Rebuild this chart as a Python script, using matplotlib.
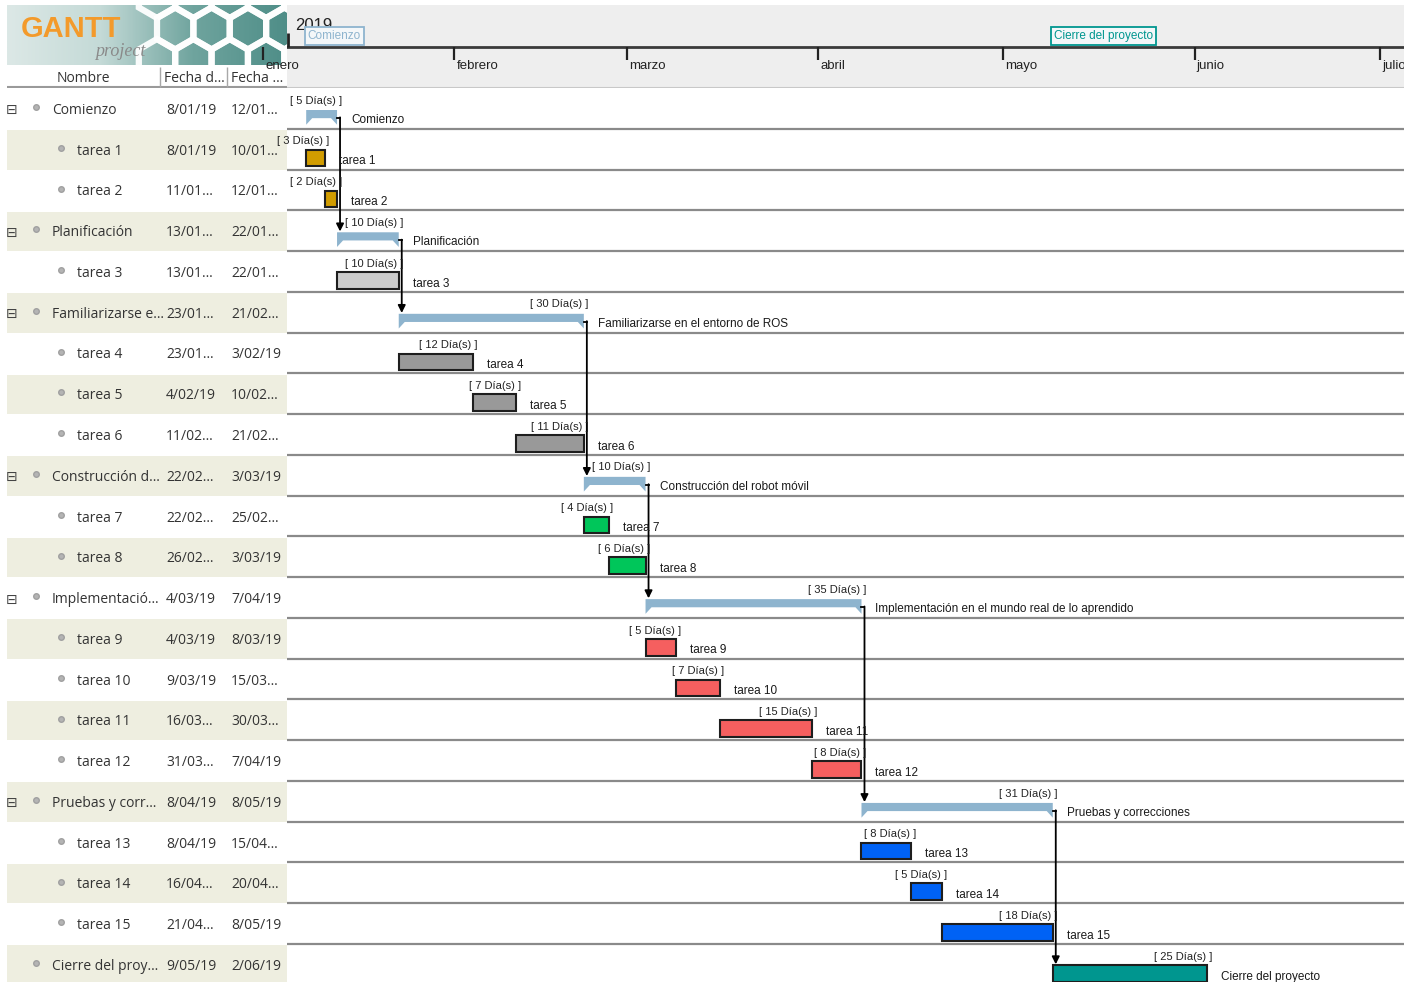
"""
GanttProject style chart: planning of the ROS mobile robot project (2019)
"""
import datetime as dt

import matplotlib
import matplotlib.dates as mdates
import matplotlib.pyplot as plt
import numpy as np
from matplotlib.patches import Polygon, RegularPolygon

matplotlib.use("Agg")

W, H = 1414, 982

# ---- data -----------------------------------------------------------------
TABLE_NAMES = [
    "Comienzo", "tarea 1", "tarea 2", "Planificación", "tarea 3",
    "Familiarizarse e…", "tarea 4", "tarea 5", "tarea 6", "Construcción d…",
    "tarea 7", "tarea 8", "Implementació…", "tarea 9", "tarea 10", "tarea 11",
    "tarea 12", "Pruebas y corr…", "tarea 13", "tarea 14", "tarea 15",
    "Cierre del proy…",
]
CHART_NAMES = [
    "Comienzo", "tarea 1", "tarea 2", "Planificación", "tarea 3",
    "Familiarizarse en el entorno de ROS", "tarea 4", "tarea 5", "tarea 6",
    "Construcción del robot móvil", "tarea 7", "tarea 8",
    "Implementación en el mundo real de lo aprendido", "tarea 9", "tarea 10",
    "tarea 11", "tarea 12", "Pruebas y correcciones", "tarea 13", "tarea 14",
    "tarea 15", "Cierre del proyecto",
]
START_LABELS = [
    "8/01/19", "8/01/19", "11/01…", "13/01…", "13/01…", "23/01…", "23/01…",
    "4/02/19", "11/02…", "22/02…", "22/02…", "26/02…", "4/03/19", "4/03/19",
    "9/03/19", "16/03…", "31/03…", "8/04/19", "8/04/19", "16/04…", "21/04…",
    "9/05/19",
]
END_LABELS = [
    "12/01…", "10/01…", "12/01…", "22/01…", "22/01…", "21/02…", "3/02/19",
    "10/02…", "21/02…", "3/03/19", "25/02…", "3/03/19", "7/04/19", "8/03/19",
    "15/03…", "30/03…", "7/04/19", "8/05/19", "15/04…", "20/04…", "8/05/19",
    "2/06/19",
]
STARTS = [
    "2019-01-08", "2019-01-08", "2019-01-11", "2019-01-13", "2019-01-13",
    "2019-01-23", "2019-01-23", "2019-02-04", "2019-02-11", "2019-02-22",
    "2019-02-22", "2019-02-26", "2019-03-04", "2019-03-04", "2019-03-09",
    "2019-03-16", "2019-03-31", "2019-04-08", "2019-04-08", "2019-04-16",
    "2019-04-21", "2019-05-09",
]
ENDS = [
    "2019-01-12", "2019-01-10", "2019-01-12", "2019-01-22", "2019-01-22",
    "2019-02-21", "2019-02-03", "2019-02-10", "2019-02-21", "2019-03-03",
    "2019-02-25", "2019-03-03", "2019-04-07", "2019-03-08", "2019-03-15",
    "2019-03-30", "2019-04-07", "2019-05-08", "2019-04-15", "2019-04-20",
    "2019-05-08", "2019-06-02",
]
DURATIONS = [5, 3, 2, 10, 10, 30, 12, 7, 11, 10, 4, 6, 35, 5, 7, 15, 8, 31, 8, 5, 18, 25]
IS_SUMMARY = [True, False, False, True, False, True, False, False, False, True,
              False, False, True, False, False, False, False, True, False,
              False, False, False]
LEVEL = [0, 1, 1, 0, 1, 0, 1, 1, 1, 0, 1, 1, 0, 1, 1, 1, 1, 0, 1, 1, 1, 0]
COLORS = ["#8EB4CE", "#D19C00", "#D19C00", "#8EB4CE", "#CCCCCC", "#8EB4CE",
          "#999999", "#999999", "#999999", "#8EB4CE", "#00C65A", "#00C65A",
          "#8EB4CE", "#F55F5F", "#F55F5F", "#F55F5F", "#F55F5F", "#8EB4CE",
          "#0062F5", "#0062F5", "#0062F5", "#00968F"]
DEPENDENCIES = [(0, 3), (3, 5), (5, 9), (9, 12), (12, 17), (17, 21)]
MONTHS = ["enero", "febrero", "marzo", "abril", "mayo", "junio", "julio"]
MONTH_STARTS = ["2019-01-01", "2019-02-01", "2019-03-01", "2019-04-01",
                "2019-05-01", "2019-06-01", "2019-07-01"]
TIMELINE = [(0, "Comienzo", "#8EB4CE"), (21, "Cierre del proyecto", "#00968F")]

# ---- layout helpers ---------------------------------------------------------
PPD = 6.17          # pixels per day
JAN1_PX = 263       # pixel position of 1 January
CHART_L, CHART_R = 287, 1404
HEAD_T, HEAD_B = 5, 88
ROW_PX = 40.76
N_VIS = (H - HEAD_B) / ROW_PX

CHART_FONT = ["Liberation Sans", "DejaVu Sans"]
TABLE_FONT = ["Open Sans", "DejaVu Sans"]


def frac(x0, y0, x1, y1):
    return [x0 / W, 1 - y1 / H, (x1 - x0) / W, (y1 - y0) / H]


def num(s):
    return mdates.date2num(dt.datetime.strptime(s, "%Y-%m-%d"))


X0 = num("2019-01-01")
XLIM = (X0 + (CHART_L - JAN1_PX) / PPD, X0 + (CHART_R - JAN1_PX) / PPD)
starts = np.array([num(s) for s in STARTS])
ends = np.array([num(s) for s in ENDS]) + 1  # inclusive end date

fig = plt.figure(figsize=(W / 100, H / 100), dpi=100)
fig.patch.set_facecolor("white")

# ---- logo ------------------------------------------------------------------
lax = fig.add_axes(frac(7, HEAD_T, CHART_L, 65))
grad = np.linspace(0, 1, 300)[None, :]
cmap = matplotlib.colors.LinearSegmentedColormap.from_list(
    "logo", ["#DCE8E6", "#C4DAD7", "#6FA49E", "#4F8E88"])
lax.imshow(grad, aspect="auto", cmap=cmap, extent=(0, 280, 60, 0))
r = 21
for k, cy in enumerate(np.arange(-8, 80, 1.5 * r)):
    off = np.sqrt(3) / 2 * r if k % 2 else 0
    for cx in np.arange(150, 320, np.sqrt(3) * r):
        lax.add_patch(RegularPolygon((cx + off, cy), 6, radius=r,
                                     fill=False, ec="white", lw=4.5,
                                     alpha=0.95, clip_on=True))
lax.text(14, 24, "GANTT", color="#F39A2B", fontsize=21, fontweight="bold",
         family=CHART_FONT, va="center", ha="left")
lax.text(138, 46, "project", color="#8A8A8A", fontsize=13, style="italic",
         family=["Liberation Serif", "DejaVu Serif"], va="center", ha="right")
lax.set_xlim(0, 280)
lax.set_ylim(60, 0)
lax.axis("off")

# ---- table header -------------------------------------------------------------
thx = fig.add_axes(frac(7, 65, CHART_L, HEAD_B))
thx.set_facecolor("#F3F3F3")
thx.set_xlim(7, CHART_L)
thx.set_ylim(23, 0)
thx.axhline(22.2, color="#9A9A9A", lw=1.5)
for xv in (160, 227):
    thx.vlines(xv, 2, 22, color="#A8A8A8", lw=1)
thx.text(83, 13, "Nombre", ha="center", va="center", fontsize=10,
         color="#333333", family=TABLE_FONT)
thx.text(164, 13, "Fecha d…", ha="left", va="center", fontsize=10,
         color="#333333", family=TABLE_FONT)
thx.text(231, 13, "Fecha …", ha="left", va="center", fontsize=10,
         color="#333333", family=TABLE_FONT)
thx.axis("off")

# ---- table body ----------------------------------------------------------------
tax = fig.add_axes(frac(7, HEAD_B, CHART_L, H))
tax.set_xlim(7, CHART_L)
tax.set_ylim(N_VIS, 0)
for i, name in enumerate(TABLE_NAMES):
    if i % 2 == 1:
        tax.axhspan(i + 0.03, i + 1.0, color="#EEEEE0", lw=0)
    yc = i + 0.55
    if IS_SUMMARY[i]:
        tax.text(12, yc, "⊟", ha="center", va="center", fontsize=10,
                 color="#444444", family=["DejaVu Sans"])
    ix = 36 if LEVEL[i] == 0 else 61
    tax.plot(ix, yc - 0.08, marker="o", ms=4, color="#B4B4B4", mec="#A0A0A0")
    tax.text(ix + 16, yc, name, ha="left", va="center", fontsize=10,
             color="#333333", family=TABLE_FONT)
    tax.text(166, yc, START_LABELS[i], ha="left", va="center", fontsize=10,
             color="#333333", family=TABLE_FONT)
    tax.text(231, yc, END_LABELS[i], ha="left", va="center", fontsize=10,
             color="#333333", family=TABLE_FONT)
tax.axis("off")

# ---- timeline header -------------------------------------------------------------
hx = fig.add_axes(frac(CHART_L, HEAD_T, CHART_R, HEAD_B))
hx.set_facecolor("#EEEEEE")
hx.set_xlim(*XLIM)
hx.set_ylim(HEAD_B - HEAD_T, 0)
for s in hx.spines.values():
    s.set_visible(False)
hx.set_xticks([])
hx.set_yticks([])
hx.axhline(42, color="#3A3A3A", lw=2)
hx.axhline(HEAD_B - HEAD_T - 0.5, color="#C8C8C8", lw=1.5)
hx.vlines(XLIM[0] + 0.1, 28, 42, color="#222222", lw=2, clip_on=False)
hx.text(XLIM[0] + 1.3, 20, "2019", ha="left", va="center", fontsize=12,
        color="#222222", family=CHART_FONT)
for k, (m, ms) in enumerate(zip(MONTHS, MONTH_STARTS)):
    xm = num(ms)
    hx.vlines(xm, 42, 55, color="#222222", lw=1.6, clip_on=False)
    hx.text(xm + 0.35, 61, m, ha="left", va="center", fontsize=9.5,
            color="#222222", family=CHART_FONT, clip_on=(k > 0))
for idx, label, col in TIMELINE:
    hx.text(starts[idx] + 0.25, 31, label, ha="left", va="center", fontsize=8.5,
            color=col, family=CHART_FONT,
            bbox=dict(boxstyle="square,pad=0.25", fc="#F4F7F9", ec=col, lw=1.3))

# ---- gantt chart -------------------------------------------------------------------
ax = fig.add_axes(frac(CHART_L, HEAD_B, CHART_R, H))
ax.set_xlim(*XLIM)
ax.set_ylim(N_VIS, 0)
ax.axis("off")

for row in range(1, int(N_VIS) + 1):
    ax.axhline(row, color="#8A8A8A", lw=1.6, zorder=1)

tip = 6 / PPD
for i, (s, e) in enumerate(zip(starts, ends)):
    if IS_SUMMARY[i]:
        poly = Polygon([(s, i + 0.54), (e, i + 0.54), (e, i + 0.90),
                        (e - tip, i + 0.74), (s + tip, i + 0.74), (s, i + 0.90)],
                       closed=True, fc=COLORS[i], ec="none", zorder=3)
        ax.add_patch(poly)
        name_y = i + 0.79
    else:
        ax.barh(i + 0.72, e - s, left=s, height=0.41, color=COLORS[i],
                edgecolor="#1E1E1E", lw=1.5, zorder=3)
        name_y = i + 0.80
    ax.text(e + 5 / PPD, i + 0.31, f"[ {DURATIONS[i]} Día(s) ]", ha="right",
            va="center", fontsize=8, color="#222222", family=CHART_FONT,
            clip_on=False, zorder=5)
    ax.text(e + 14 / PPD, name_y, CHART_NAMES[i], ha="left", va="center",
            fontsize=8.5, color="#1A1A1A", family=CHART_FONT, zorder=5)

hook = 3 / PPD
for a, b in DEPENDENCIES:
    xa = ends[a] + hook
    ya = a + 0.74
    ax.plot([ends[a], xa], [ya, ya], color="black", lw=1.3, zorder=4)
    yb = b + (0.52 if IS_SUMMARY[b] else 0.50)
    ax.annotate("", xy=(xa, yb), xytext=(xa, ya - 0.02),
                arrowprops=dict(arrowstyle="-|>", color="black", lw=1.3,
                                shrinkA=0, shrinkB=0, mutation_scale=11),
                zorder=4)

fig.savefig("out.png", dpi=100)
